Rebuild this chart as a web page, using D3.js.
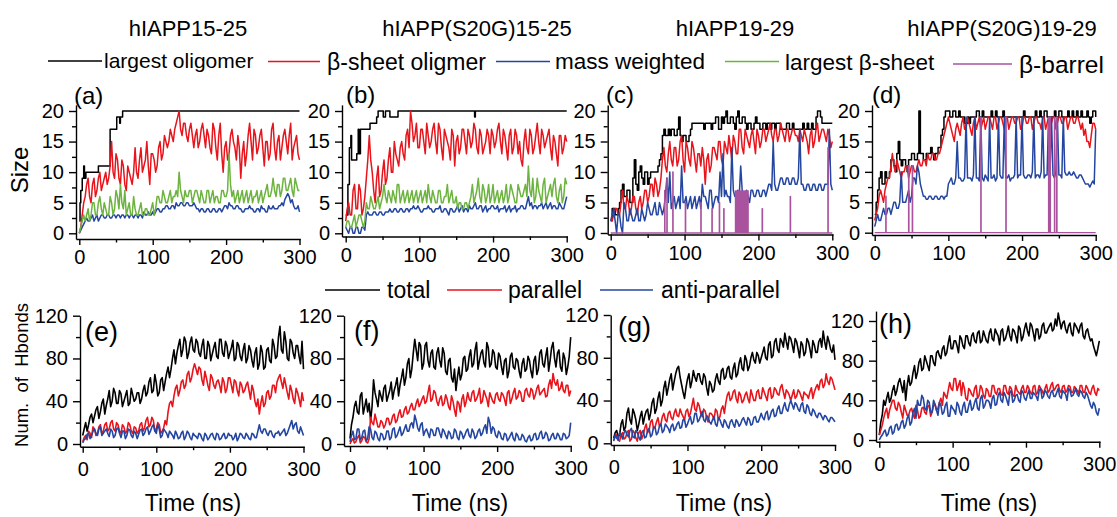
<!DOCTYPE html>
<html><head><meta charset="utf-8">
<script src="https://cdn.jsdelivr.net/npm/d3@7"></script>
<style>
body{margin:0;background:#fff}
svg text{font-family:"Liberation Sans",Arial,Helvetica,sans-serif;fill:#000}
</style></head><body>
<svg id="c" width="1117" height="517"></svg>
<script>
// ---------------- DATA ----------------
const titles = ["hIAPP15-25","hIAPP(S20G)15-25","hIAPP19-29","hIAPP(S20G)19-29"];
const topLegend = ["largest oligomer","β-sheet oligmer","mass weighted","largest β-sheet","β-barrel"];
const botLegend = ["total","parallel","anti-parallel"];
const sizeTicks = [0,5,10,15,20];
const hbTicks = [0,40,80,120];
const timeTicks = [0,100,200,300];
// sampling times (ns): first array of each series at 0,4,...,300; second ("...2") at 2,6,...,298
const T = d3.range(0,301,4);

// (a) hIAPP15-25
const aLargest = [[0,2],[1,5],[2,7],[4,9],[6,11],[7,9],[9,10],[26,11],[42,17],[51,19],[55,18],[56,19],[59,20],[300,20]];
const aBeta = [0,3,6,9,5,9,7,10,8,10, 9,15,9,12,8,11,7,10,8,14, 9,14,11,15,8,13,10,14,12,16,
  14,17,15,18,20,16,18,15,18,14, 17,15,18,14,16,13,17,12,18,10, 15,13,17,14,16,9,15,13,18,12,
  16,14,17,11,15,13,18,12,16,14, 17,13,18,14,16,12];
const aBeta2 = [1,5,8,6,8,6,9,7,9,8, 11,10,13,9,12,8,11,9,10,10, 12,10,12,11,13,12,11,15,13,15,
  15,16,17,19,17,18,16,17,16,16, 14,17,16,17,14,18,14,16,13,14, 12,16,15,12,14,13,11,16,15,17,
  13,16,14,15,12,17,14,15,12,16, 15,16,12,15,13];
const aMass = [0,1,2,2,2.5,2,3,2.5,3,2.5, 3,2.5,3,3,2.5,3,3,2.5,3,3, 2.5,3,3.5,3,3,3.5,3.5,4,3.5,4,
  4.5,4,4.5,5,4.5,5,4.5,5,4.5,5, 4,3.5,4,3.5,4,3.5,4,3.5,4,4, 4.5,5,4.5,4,4.5,4,3.5,4,4.5,4,
  3.5,4,4.5,4,3.5,4,4.5,4,4.5,5, 5.5,6.5,5,4.5,4,3.5];
const aMass2 = [0.5,1.5,2.5,2,3,2.5,2,3,2.5,3, 2.5,3,2.5,3,3,2.5,3,3,2.5,3, 3,2.5,3,3.5,3,3,4,3.5,4,4.5,
  4,4.5,4,4.5,5,4.5,5,4.5,4.5,4.5, 4,4,3.5,4,3.5,4,3.5,4,3.5,4.5, 4,4.5,4,4.5,4,3.5,4,4,4,3.5,
  4,3.5,4,3.5,4.5,4,4,4,4.5,4.5, 6,6,5.5,4,4.5];
const aLBeta = [0,2,2,4,3,5,3,6,3,4, 3,5,4,6,8,4,3,5,3,4, 3,5,3,4,3,5,4,6,5,6,
  5,7,6,7,10,6,7,6,7,6, 7,5,6,5,7,6,5,6,5,7, 6,13,6,5,7,6,5,7,6,5,
  6,5,7,6,8,6,9,6,8,7, 9,7,9,6,8,7];
const aLBeta2 = [1,3,3,2,5,3,5,4,5,3, 6,3,7,4,5,7,4,3,6,3, 4,3,4,3,4,3,6,5,7,5,
  6,5,6,6,7,5,6,7,5,7, 6,7,5,7,5,7,6,5,7,6, 7,8,7,6,5,7,6,5,7,6,
  7,6,5,7,6,7,7,8,6,9, 7,8,7,9,7];

// (b) hIAPP(S20G)15-25
const bLargest = [[0,3],[3,8],[5,14],[7,16],[8,12],[15,13],[17,17],[18,13],[20,17],[33,18],[42,19],[44,20],[51,19],[54,20],[60,19],[71,20],[175,19],[176,20],[300,20]];
const bBeta = [2,5,3,8,4,7,4,9,16,10, 5,11,7,12,9,14,10,13,11,15, 12,17,20,15,18,14,17,13,16,15,
  18,13,17,12,16,14,17,11,16,14, 17,13,16,15,17,13,16,14,17,13, 16,15,18,13,16,12,17,14,16,15,
  11,17,13,16,14,18,13,16,15,17, 12,15,11,16,14,15];
const bBeta2 = [4,3,7,4,8,3,6,12,12,7, 9,6,10,8,12,10,15,12,14,13, 16,14,18,16,14,17,15,18,14,17,
  15,18,14,17,15,12,16,15,13,17, 15,17,14,18,14,17,13,15,16,17, 14,17,15,17,14,16,13,17,13,12,
  15,14,17,13,16,15,17,14,16,14, 16,13,16,13,16];
const bMass = [1,0,1,0,1,0,1,3,3,3, 3.5,3,3.5,3,3.5,4,3.5,4,3.5,4, 3.5,4,4,4.5,4,4,3.5,4,4.5,4,
  3.5,4,4.5,3.5,4,3,4,3.5,4.5,4, 3.5,4,4.5,4,5,4,4.5,4,3.5,4, 4.5,4,3.5,4,4.5,4,3.5,4,3.5,4,
  4.5,4,6,5,4.5,4,4.5,4,5,4.5, 4,4.5,4,4.5,4,6];
const bMass2 = [0.5,1,0,1,0,1,0.5,3.5,3,3.5, 3,3.5,3,3.5,3.5,3.5,4,3.5,4,3.5, 4,3.5,4,4,4.5,3.5,4,4,4,3.5,
  4,4,3.5,4,3.5,4,3.5,4,3.5,4.5, 4,3.5,4,4.5,4,4.5,3.5,4.5,4,4.5, 4,4.5,4,4,3.5,4.5,4,4.5,4,4.5,
  4,5,4.5,4,4.5,4.5,5,4.5,4,5, 4.5,4,5,4,5];
const bLBeta = [1,2,1,3,2,3,1,5,4,5, 4,6,5,8,5,6,7,5,8,6, 5,7,6,5,7,6,5,7,8,5,
  6,5,7,5,6,5,7,5,4,5, 4,5,5,8,6,9,5,7,6,5, 8,6,5,7,6,5,8,6,5,7,
  6,8,11,6,5,9,6,8,5,7, 6,9,5,8,6,8];
const bLBeta2 = [2,1,2,1,3,2,2,4,6,4, 5,4,6,6,7,5,6,8,5,7, 6,5,7,6,5,7,6,5,6,7,
  5,7,5,6,8,6,5,6,5,4, 5,4,6,5,7,6,8,5,8,6, 5,7,6,5,8,6,7,5,8,6,
  7,6,7,9,6,7,5,9,6,8, 8,6,7,5,9];

// (c) hIAPP19-29
const cLargest = [2,4,3,5,8,6,7,5,12,7, 11,8,10,9,10,10,11,13,17,16, 16,17,16,19,15,16,15,17,18,18,
  18,18,18,18,17,18,19,17,18,20, 18,19,17,20,18,19,17,18,17,19, 18,17,18,18,17,18,18,18,17,17,
  18,17,17,17,17,18,17,17,18,17, 20,19,18,18,18,18];
const cLargest2 = [4,3,4,7,6,7,5,9,8,10, 9,10,8,10,10,10,12,16,16,17, 17,16,17,16,16,15,16,18,18,18,
  18,17,18,18,18,19,17,19,19,18, 19,18,19,18,19,18,18,17,18,18, 17,18,17,18,18,17,18,17,17,18,
  17,18,17,17,17,17,18,17,17,19, 20,18,18,18,18];
const cBeta = [2,3,4,3,7,4,5,4,6,3, 6,5,7,6,8,9,6,9,14,10, 15,11,14,12,16,10,14,11,14,10,
  13,14,8,13,11,14,12,15,11,14, 16,12,15,13,17,13,16,14,17,13, 16,15,17,16,18,15,17,16,17,15,
  17,16,17,16,17,15,16,13,17,15, 18,16,17,15,16,15];
const cBeta2 = [2,4,3,5,4,6,3,6,4,5, 4,7,5,8,6,8,7,12,11,13, 12,14,11,15,12,15,12,15,12,13,
  11,12,12,10,14,13,15,12,15,13, 14,16,13,17,14,17,15,16,15,17, 14,17,15,17,16,17,15,18,16,17,
  15,17,16,15,16,17,15,16,14,17, 15,17,16,17,14];
const cMass = [2,4,0,3,0,4,2,3,2,4, 2,3,3,4,3,5,3,4,4,9, 10,5,4,6,11,5,4,6,5,4,
  6,8,6,4,7,5,6,10,13,7, 6,14,6,7,11,6,7,5,7,6, 7,6,7,7,8,15,7,8,9,8,
  9,8,9,8,17,8,7,8,7,8, 7,8,7,8,17,7];
const cMass2 = [3,2,3,1,5,2,4,2,3,2, 4,2,5,3,4,3,5,3,6,5, 4,6,5,4,5,6,5,4,6,5,
  4,6,5,7,4,6,5,6,6,6, 5,7,6,6,7,6,6,7,6,7, 6,7,6,8,7,8,7,9,8,9,
  8,9,8,9,8,7,8,7,8,7, 8,7,8,8,8];
const cBarrel = [[73,7],[76,9],[84,10],[101,5],[122,5],[137,4],[147,5],[153,4],[205,4],[243,6],[294,14]];
const cBarrelBlock = [168,187,7];

// (d) hIAPP(S20G)19-29
const dLargest = [3,7,10,8,9,10,12,10,15,11, 12,10,12,13,12,20,13,12,13,14, 12,13,14,17,20,20,19,20,19,19,
  19,18,18,19,19,20,19,19,19,19, 19,20,19,19,19,19,19,19,19,19, 19,19,19,19,19,19,20,19,20,19,
  19,20,19,20,19,19,19,20,19,19, 20,19,20,18,20,19];
const dLargest2 = [5,9,8,10,9,12,11,13,12,12, 11,12,13,12,13,13,12,13,13,13, 13,14,16,19,20,19,20,19,20,19,
  18,19,19,19,20,19,20,19,19,20, 19,19,19,20,19,19,19,19,19,19, 20,19,19,19,20,19,19,20,19,19,
  19,19,20,19,19,20,19,19,20,19, 19,19,19,19,20];
const dBeta = [2,4,7,5,8,9,13,10,11,9, 10,11,10,11,10,12,11,12,13,12, 13,12,13,15,17,19,17,15,18,16,
  19,17,18,16,19,18,17,19,18,19, 17,19,18,19,17,19,18,19,18,19, 17,19,18,19,18,19,18,19,17,19,
  18,19,18,19,18,19,18,19,18,19, 17,16,15,14,18,17];
const dBeta2 = [3,6,6,7,9,11,11,12,10,10, 11,9,11,10,11,11,12,11,12,13, 12,13,14,16,18,18,16,17,17,18,
  17,19,17,18,17,19,18,17,19,18, 19,17,19,18,19,17,19,18,19,17, 19,18,19,17,19,18,17,19,18,18,
  19,17,19,18,19,17,19,18,19,18, 18,17,15,16,18];
const dMass = [1,3,2,4,3,4,4,5,4,10, 5,6,5,9,8,10,7,6,5.5,6, 5.5,6,5.5,6,6,8,9,8,15,9,
  8.5,19,9,8.5,19,9,19,8.5,9,19, 9,8.5,19,9,19,9,8.5,9,19,9.5, 19,9,9.5,9,19,9.5,9,19,9.5,19,
  19,9,19,9.5,19,9.5,10,9.5,9.5,9, 9.5,8.5,8,7.5,8.5,17];
const dMass2 = [2,2,3,3,4,3,5,4,5,5, 5,7,6,9,11,8,6,5.5,6,5.5, 6,5.5,6,5.5,6,8.5,8,9,9,8.5,
  9,9,9,9.5,9,8.5,9,9.5,8.5,9, 9.5,9,9.5,9,9,9.5,9,9.5,9,9.5, 9.5,9,9.5,10,9,9.5,10,9,9.5,9.5,
  9.5,10,9.5,9,10,9.5,9.5,10,9,9.5, 9,8,8,8,8];
const dBarrel = [[15,6],[46,11],[51,11],[144,19],[178,19],[236,19],[238,19],[244,19],[247,19]];

// (e)-(h) hydrogen bonds
const eTotal = [8,20,18,28,26,35,30,42,36,50, 40,48,38,47,40,50,38,46,42,48, 42,55,48,62,50,57,48,62,58,72,
  70,88,85,98,88,96,85,100,86,95, 82,98,80,92,84,95,80,98,82,92, 85,97,80,92,78,94,80,88,72,90,
  75,86,72,90,76,92,82,110,85,96, 78,95,80,92,75,70];
const eTotal2 = [14,12,25,20,32,24,38,28,42,35, 52,38,50,35,45,36,52,40,48,38, 50,45,58,48,65,45,60,50,66,62,
  80,75,92,82,100,80,95,88,98,85, 92,80,96,78,90,82,98,85,96,80, 90,78,95,82,88,76,92,78,85,70,
  92,70,88,78,98,80,100,88,105,80, 98,85,92,82,96];
const ePar = [2,8,12,6,14,10,18,12,20,14, 22,12,18,10,16,12,18,10,15,12, 20,15,25,18,22,14,18,12,22,30,
  40,45,55,50,60,55,68,62,75,65, 70,55,62,50,62,52,60,48,58,52, 62,48,58,45,55,50,58,42,50,35,
  28,45,38,50,45,55,58,65,52,55, 42,50,38,48,35,40];
const ePar2 = [6,4,10,16,8,16,10,18,12,20, 14,20,12,18,10,20,12,16,10,18, 12,22,16,25,12,20,10,15,18,38,
  35,52,45,58,52,65,58,70,70,72, 60,68,55,65,55,58,55,62,48,62, 55,60,50,58,48,55,50,55,40,42,
  38,35,48,42,55,48,62,58,62,48, 55,42,52,42,48];
const eAnti = [1,5,10,8,14,8,16,10,14,7, 12,8,15,6,12,8,13,6,10,9, 14,10,16,12,18,10,14,8,12,6,
  10,5,9,6,12,7,10,4,8,5, 9,3,8,6,10,4,9,5,10,6, 8,4,10,6,9,5,8,4,9,6,
  18,10,14,8,12,6,10,8,12,8, 14,22,18,12,16,8];
const eAnti2 = [4,9,5,12,10,14,8,12,10,14, 6,14,10,12,5,14,8,12,5,13, 8,14,9,16,12,18,6,14,10,12,
  8,12,5,10,4,12,6,10,7,10, 5,10,4,9,6,10,4,8,5,10, 8,6,3,10,6,10,5,10,6,12,
  12,14,10,12,8,10,12,10,14,10, 18,14,20,10,12];

const fTotal = [5,25,40,28,48,35,30,22,60,42, 50,40,55,45,58,50,62,55,70,62, 80,70,98,78,92,75,95,72,88,70,
  90,72,85,65,80,58,50,72,65,82, 70,88,75,95,78,88,72,90,75,85, 70,82,65,80,68,85,70,78,62,80,
  70,78,62,82,70,88,72,90,78,95, 72,88,68,80,72,100];
const fTotal2 = [18,35,30,45,28,42,38,35,48,35, 45,52,40,50,42,55,45,62,55,75, 62,85,88,95,70,92,78,85,72,85,
  78,90,68,78,62,70,62,60,80,68, 82,72,88,70,85,76,95,72,88,72, 85,72,78,62,82,72,80,68,75,68,
  82,68,78,65,85,75,82,68,90,80, 85,72,85,65,82];
const fPar = [0,5,2,8,3,6,1,25,18,22, 16,20,18,24,20,28,22,32,26,35, 30,38,32,42,38,45,40,55,42,48,
  36,45,38,42,32,40,26,38,42,35, 48,40,50,42,52,40,46,35,44,38, 48,40,46,36,50,42,52,44,48,40,
  52,44,50,46,55,48,52,45,60,66, 55,50,58,48,55,50];
const fPar2 = [3,1,6,1,7,2,5,20,28,16, 22,15,24,18,26,20,28,25,32,28, 35,32,38,35,42,38,48,40,50,40,
  42,36,46,35,45,32,40,30,46,40, 42,48,40,46,38,50,42,48,40,46, 42,48,42,48,38,48,42,50,40,50,
  46,52,42,52,46,50,44,55,52,58, 60,52,50,55,45];
const fAnti = [2,12,5,14,6,13,5,14,4,10, 3,9,5,12,6,15,8,16,10,18, 12,20,27,15,18,8,14,6,13,8,
  15,6,12,5,10,6,12,4,10,8, 14,6,11,7,14,10,18,25,10,14, 6,10,4,9,5,11,3,8,4,7,
  2,8,4,10,5,12,6,9,4,10, 5,8,4,9,6,20];
const fAnti2 = [8,4,14,4,12,3,16,6,12,5, 10,4,12,4,14,6,12,8,14,12, 18,15,22,12,20,12,10,14,8,15,
  10,14,8,12,5,14,6,12,5,12, 8,14,5,12,8,15,10,20,16,8, 12,5,10,3,8,5,10,4,9,3,
  6,3,9,4,10,5,11,3,8,5, 10,4,10,5,8];

const gTotal = [5,12,8,22,15,33,18,28,12,25, 18,30,22,38,28,42,35,52,45,60, 50,65,72,55,42,60,52,68,58,65,
  55,62,45,55,50,65,55,70,62,72, 60,75,65,80,68,78,72,85,75,82, 80,90,78,95,82,98,85,95,103,88,
  98,85,95,80,92,85,95,80,92,85, 98,105,88,95,85,78];
const gTotal2 = [10,6,18,12,28,22,32,22,18,30, 25,32,28,42,32,48,40,58,52,65, 58,70,62,48,52,65,58,62,65,58,
  65,52,58,48,60,58,68,60,70,62, 70,62,75,70,82,68,80,78,85,75, 85,80,92,80,95,88,98,90,95,100,
  92,98,88,95,82,98,88,96,85,95, 90,95,100,88,92];
const gPar = [3,8,2,10,5,12,4,10,2,12, 8,18,12,22,15,24,18,28,20,30, 22,32,25,28,22,32,28,42,30,35,
  25,30,20,28,22,30,25,35,38,48, 42,50,38,45,40,48,38,45,40,50, 42,48,40,52,44,50,45,55,42,48,
  40,50,44,48,40,46,42,52,48,55, 58,52,65,55,60,50];
const gPar2 = [6,3,8,4,10,2,12,5,10,4, 14,10,20,14,20,16,25,22,28,24, 28,26,32,25,30,25,35,32,38,28,
  32,24,28,26,32,22,32,28,45,40, 48,42,48,38,45,42,50,40,48,42, 52,44,50,42,52,46,52,48,50,45,
  45,42,50,44,48,45,48,42,52,50, 60,55,58,62,55];
const gAnti = [2,5,10,4,12,6,14,5,10,3, 12,6,14,8,15,10,18,12,16,10, 18,14,20,15,22,18,25,20,28,22,
  30,20,24,18,25,16,22,15,20,14, 22,15,20,18,24,17,22,18,25,20, 28,22,30,25,32,26,35,28,38,30,
  40,32,36,30,38,28,34,26,30,24, 28,22,25,20,24,20];
const gAnti2 = [8,3,8,10,8,12,6,12,6,10, 5,12,6,15,8,16,10,18,14,16, 12,18,14,22,15,22,18,28,20,26,
  22,26,20,22,18,24,18,22,16,20, 18,22,16,22,20,24,17,24,20,24, 24,28,22,30,25,32,28,34,32,36,
  36,38,32,36,30,36,28,32,26,28, 25,26,22,24,22];

const hTotal = [5,25,35,48,42,55,50,62,48,40, 65,58,75,68,82,72,80,70,85,75, 90,82,95,88,105,92,100,88,102,92,
  105,95,108,98,110,100,105,98,112,100, 108,96,112,102,115,100,110,98,112,104, 118,105,115,100,112,105,118,108,115,110,
  122,128,112,120,108,118,105,115,108,118, 102,112,100,95,85,100];
const hTotal2 = [18,40,42,38,50,45,58,55,60,55, 55,68,62,78,70,85,75,85,78,88, 85,92,85,98,92,100,95,105,95,105,
  98,105,100,108,98,110,100,108,102,112, 105,110,100,108,105,112,105,115,100,112, 110,118,108,112,102,115,108,112,118,112,
  115,120,118,112,115,108,118,112,115,105, 110,105,102,90,92];
const hPar = [5,15,28,22,35,40,30,35,22,30, 25,32,22,30,24,33,26,35,28,36, 32,42,48,42,58,50,62,55,45,52,
  40,50,44,55,45,52,42,50,44,55, 46,52,45,55,46,52,44,50,46,55, 48,52,46,55,48,52,46,56,50,58,
  52,56,48,55,50,54,48,52,47,55, 48,52,46,55,45,50];
const hPar2 = [10,22,32,30,40,32,38,28,35,25, 30,26,35,22,32,28,34,24,35,30, 38,35,45,50,52,62,50,60,58,42,
  52,46,52,42,55,45,52,44,55,48, 52,46,55,48,54,45,55,48,52,48, 55,48,54,46,55,50,52,48,55,50,
  55,50,54,48,55,48,54,50,55,48, 55,48,52,48,52];
const hAnti = [0,5,10,6,14,8,16,12,20,15, 25,18,32,40,35,42,30,38,28,36, 25,35,28,38,24,32,26,35,25,38,
  28,40,32,42,30,45,35,40,32,45, 36,48,38,45,35,50,40,46,38,48, 40,50,42,46,40,52,44,48,42,50,
  44,52,42,48,40,50,45,52,44,48, 42,45,35,38,28,32];
const hAnti2 = [3,8,4,12,6,15,10,18,12,22, 15,28,22,35,45,32,40,28,40,30, 38,26,35,24,35,30,38,28,34,28,
  35,30,38,32,42,32,40,38,42,35, 45,40,48,40,48,38,45,40,50,42, 46,42,48,44,50,42,50,44,48,44,
  48,44,50,46,52,44,48,46,50,44, 48,40,32,35,25];

// ---------------- DRAW ----------------
const svg = d3.select("#c");
svg.append("rect").attr("width",1117).attr("height",517).attr("fill","#fff");
const COL = {black:"#000000", red:"#e8141c", blue:"#2446a0", green:"#6db33f", purple:"#a9539f"};
const FONT = '"Liberation Sans",Arial,Helvetica,sans-serif';

// merge the two tabulations (0,4,8.. and 2,6,10..) into one time-ordered series
function pairs(v, v2){
  const out=[];
  T.forEach((t,i)=>{
    if (v[i]!==undefined) out.push([t, v[i]]);
    if (v2 && v2[i]!==undefined && t+2<=300) out.push([t+2, v2[i]]);
  });
  return out;
}
function spikes(list){
  const pts=[[0,0]];
  list.forEach(([t,h])=>{pts.push([t,0],[t,h],[t+0.5,h],[t+0.5,0]);});
  pts.push([300,0]);
  return pts;
}

function drawPanel(p){
  const x = d3.scaleLinear([0,300],[p.x0,p.x300]);
  const y = d3.scaleLinear([0,p.yRef],[p.y0,p.yRefPx]);
  const g = svg.append("g");
  const xmin = x.invert(p.axisX), ymin = y.invert(p.axisY);
  const xa = d3.scaleLinear([xmin,301],[p.axisX,x(301)]);
  const ya = d3.scaleLinear([ymin,p.yMax],[p.axisY,y(p.yMax)]);

  const styleAxis = sel => {
    sel.attr("font-size",p.tickFont).attr("font-family",FONT);
    sel.selectAll("path,line").attr("stroke","#000").attr("stroke-width",1.4);
    sel.selectAll("text").attr("fill","#000");
  };
  g.append("g").attr("transform",`translate(0,${p.axisY})`)
    .call(d3.axisBottom(xa).tickValues(timeTicks).tickSize(6).tickSizeOuter(0).tickPadding(p.xPad))
    .call(styleAxis);
  g.append("g").attr("transform",`translate(0,${p.axisY})`)
    .call(d3.axisBottom(xa).tickValues([50,150,250]).tickSize(3.5).tickFormat(""))
    .call(styleAxis).select(".domain").remove();
  g.append("g").attr("transform",`translate(${p.axisX},0)`)
    .call(d3.axisLeft(ya).tickValues(p.yTicks).tickSize(7).tickSizeOuter(0).tickPadding(5))
    .call(styleAxis);
  g.append("g").attr("transform",`translate(${p.axisX},0)`)
    .call(d3.axisLeft(ya).tickValues(p.yMinor).tickSize(4).tickFormat(""))
    .call(styleAxis).select(".domain").remove();

  p.series.forEach(s=>{
    if (s.block){
      g.append("rect").attr("x",x(s.block[0])).attr("width",x(s.block[1])-x(s.block[0]))
        .attr("y",y(s.block[2])).attr("height",y(0)-y(s.block[2])).attr("fill",s.color);
      return;
    }
    const line = d3.line().x(d=>x(d[0])).y(d=>y(d[1]))
      .curve(s.step ? d3.curveStepAfter : d3.curveLinear);
    g.append("path").datum(s.data).attr("d",line).attr("fill","none")
      .attr("stroke",s.color).attr("stroke-width",s.w||p.lw).attr("stroke-linejoin","round");
  });
  g.append("text").attr("x",p.lab[0]).attr("y",p.lab[1]).attr("font-size",p.labFont).text(p.label);
}

const topCommon = {yRef:20, yMax:21, yTicks:sizeTicks, yMinor:[2.5,7.5,12.5,17.5], tickFont:20, xPad:5, labFont:24, lw:1.5};
const botCommon = {yRef:120, yTicks:hbTicks, yMinor:[20,60,100], tickFont:20, xPad:9, labFont:27, lw:1.6};

const panels = [
  {...topCommon, x0:79.3, x300:299.5, y0:233.3, yRefPx:111, axisX:76, axisY:239, label:"(a)", lab:[74,104],
   series:[{data:aLargest,color:COL.black,step:true},{data:pairs(aBeta,aBeta2),color:COL.red},
           {data:pairs(aMass,aMass2),color:COL.blue},{data:pairs(aLBeta,aLBeta2),color:COL.green}]},
  {...topCommon, x0:345.7, x300:566.7, y0:233.3, yRefPx:111, axisX:342, axisY:236.5, label:"(b)", lab:[346,103],
   series:[{data:bLargest,color:COL.black,step:true},{data:pairs(bBeta,bBeta2),color:COL.red},
           {data:pairs(bMass,bMass2),color:COL.blue},{data:pairs(bLBeta,bLBeta2),color:COL.green}]},
  {...topCommon, x0:610.7, x300:832.3, y0:233, yRefPx:111, axisX:607.7, axisY:234.5, label:"(c)", lab:[606,103],
   series:[{data:pairs(cLargest,cLargest2),color:COL.black,step:true},{data:pairs(cBeta,cBeta2),color:COL.red},
           {data:pairs(cMass,cMass2),color:COL.blue},{data:spikes(cBarrel),color:COL.purple,w:1.3},
           {block:cBarrelBlock,color:COL.purple}]},
  {...topCommon, x0:874.7, x300:1095.7, y0:232.7, yRefPx:111, axisX:872, axisY:235, label:"(d)", lab:[872,103],
   series:[{data:pairs(dLargest,dLargest2),color:COL.black,step:true},{data:pairs(dBeta,dBeta2),color:COL.red},
           {data:pairs(dMass,dMass2),color:COL.blue},{data:spikes(dBarrel),color:COL.purple,w:1.3}]},
  {...botCommon, x0:82.7, x300:303.5, y0:444, yRefPx:315.7, yMax:120, axisX:80, axisY:446.7, label:"(e)", lab:[85,341],
   series:[{data:pairs(eTotal,eTotal2),color:COL.black},{data:pairs(ePar,ePar2),color:COL.red},{data:pairs(eAnti,eAnti2),color:COL.blue}]},
  {...botCommon, x0:350, x300:570.7, y0:444, yRefPx:315.7, yMax:120, axisX:344, axisY:446, label:"(f)", lab:[354,340],
   series:[{data:pairs(fTotal,fTotal2),color:COL.black},{data:pairs(fPar,fPar2),color:COL.red},{data:pairs(fAnti,fAnti2),color:COL.blue}]},
  {...botCommon, x0:613.7, x300:835, y0:443.3, yRefPx:315, yMax:120, axisX:610.7, axisY:445, label:"(g)", lab:[618,336],
   series:[{data:pairs(gTotal,gTotal2),color:COL.black},{data:pairs(gPar,gPar2),color:COL.red},{data:pairs(gAnti,gAnti2),color:COL.blue}]},
  {...botCommon, x0:879.3, x300:1099.3, y0:440, yRefPx:321, yMax:130, axisX:876, axisY:441.7, label:"(h)", lab:[879,333],
   series:[{data:pairs(hTotal,hTotal2),color:COL.black},{data:pairs(hPar,hPar2),color:COL.red},{data:pairs(hAnti,hAnti2),color:COL.blue}]}
];
panels.forEach(drawPanel);

// titles
const titleX = [188,477,735,1002];
titles.forEach((t,i)=>svg.append("text").attr("x",titleX[i]).attr("y",35.5)
  .attr("text-anchor","middle").attr("font-size",22).text(t));

// top legend
const tl = [
  {x1:48,x2:102,ly:61,tx:104,ty:68,size:21,c:COL.black},
  {x1:268,x2:320,ly:61.5,tx:327,ty:70,size:23,c:COL.red},
  {x1:496,x2:550,ly:61.5,tx:555,ty:69,size:22.5,c:COL.blue},
  {x1:725,x2:779,ly:61.5,tx:785,ty:69.5,size:22.5,c:COL.green},
  {x1:953,x2:1012,ly:64,tx:1019,ty:73,size:24.5,c:COL.purple}
];
topLegend.forEach((lab,i)=>{
  const o=tl[i];
  svg.append("line").attr("x1",o.x1).attr("x2",o.x2).attr("y1",o.ly).attr("y2",o.ly)
    .attr("stroke",o.c).attr("stroke-width",1.5);
  svg.append("text").attr("x",o.tx).attr("y",o.ty).attr("font-size",o.size).text(lab);
});
// bottom legend
const bl = [
  {x1:325,x2:380,tx:387,c:COL.black},
  {x1:447,x2:502,tx:508,c:COL.red},
  {x1:600,x2:653,tx:661,c:COL.blue}
];
botLegend.forEach((lab,i)=>{
  const o=bl[i];
  svg.append("line").attr("x1",o.x1).attr("x2",o.x2).attr("y1",290).attr("y2",290)
    .attr("stroke",o.c).attr("stroke-width",1.5);
  svg.append("text").attr("x",o.tx).attr("y",297.5).attr("font-size",23).text(lab);
});

// axis titles
svg.append("text").attr("transform","translate(28,170) rotate(-90)").attr("text-anchor","middle")
  .attr("font-size",24).text("Size");
svg.append("text").attr("transform","translate(28,375) rotate(-90)").attr("text-anchor","middle")
  .attr("font-size",18.5).attr("style","white-space:pre").text("Num.  of  Hbonds");
[193,460,724,989].forEach(cx=>svg.append("text").attr("x",cx).attr("y",511)
  .attr("text-anchor","middle").attr("font-size",23).text("Time (ns)"));
</script>
</body></html>
